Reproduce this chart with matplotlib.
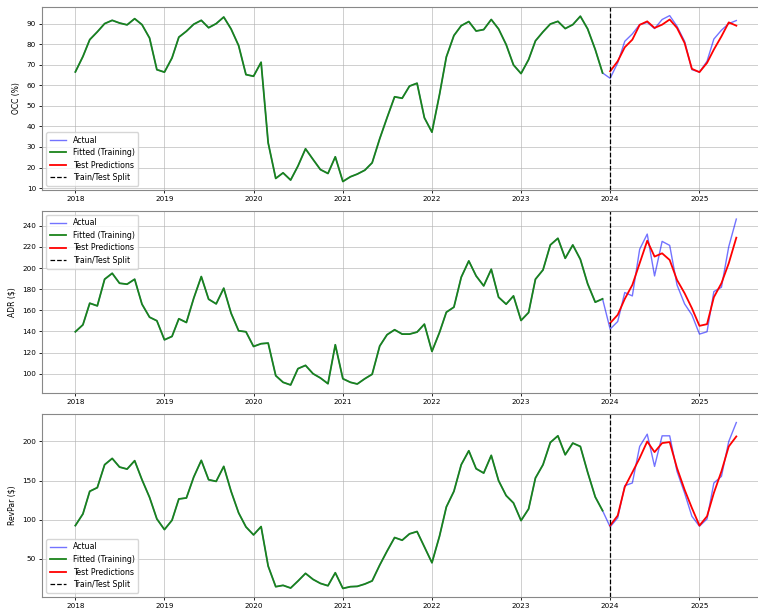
import numpy as np
import pandas as pd
import matplotlib
matplotlib.use("Agg")
import matplotlib.pyplot as plt

# monthly series, 2018-01 .. 2025-06
dates = pd.date_range("2018-01-01", "2025-06-01", freq="MS")
split_date = pd.Timestamp("2024-01-01")
n_train = 72

occ_actual = [
    66.5, 74.0, 82.2, 86.0, 90.0, 91.6, 90.3, 89.4, 92.4, 89.5, 83.0, 67.6,
    66.4, 73.3, 83.4, 86.3, 89.7, 91.6, 88.0, 90.0, 93.2, 87.4, 79.3, 65.2,
    64.4, 71.2, 32.0, 14.7, 17.4, 13.9, 20.7, 29.1, 23.9, 19.0, 17.1, 25.2,
    13.2, 15.5, 16.8, 18.7, 22.3, 34.0, 44.2, 54.4, 53.7, 59.6, 61.0, 44.2,
    37.2, 55.5, 73.8, 84.2, 89.0, 91.0, 86.4, 87.1, 92.0, 87.4, 79.8, 69.9,
    65.7, 72.5, 81.6, 86.0, 89.8, 91.1, 87.6, 89.5, 93.6, 87.4, 77.4, 66.0,
    63.4, 70.9, 81.4, 85.0, 89.5, 90.6, 87.6, 92.0, 93.9, 88.7, 81.4, 67.6,
    66.4, 71.7, 82.5, 86.8, 90.0, 91.5,
]
occ_pred = [66.8, 71.7, 78.5, 82.2, 89.4, 91.1, 87.9, 89.5, 92.0, 87.9, 80.6, 68.0,
            66.4, 70.9, 77.4, 83.8, 90.6, 89.0]

adr_actual = [
    139.7, 146.3, 166.7, 164.2, 189.4, 195.0, 185.6, 184.7, 189.4, 165.8, 153.5, 150.1,
    132.1, 135.3, 152.0, 148.5, 171.4, 191.9, 170.5, 166.1, 180.9, 157.3, 140.6, 139.7,
    125.8, 128.4, 129.0, 98.2, 91.9, 89.4, 104.8, 107.9, 100.0, 96.0, 90.6, 127.4,
    95.3, 91.9, 90.3, 95.3, 99.5, 126.2, 136.9, 141.6, 137.5, 137.5, 139.4, 146.9,
    121.1, 139.1, 158.2, 163.0, 191.3, 206.7, 192.5, 183.1, 198.8, 172.4, 165.8, 173.6,
    150.4, 157.9, 189.4, 198.2, 221.8, 228.1, 209.2, 221.8, 208.2, 185.0, 167.7, 170.8,
    142.2, 149.4, 176.8, 173.6, 217.7, 232.1, 192.5, 225.2, 221.4, 184.0, 166.1, 155.7,
    137.5, 139.7, 177.7, 181.8, 220.2, 246.3,
]
adr_pred = [147.9, 155.7, 170.8, 184.0, 204.5, 225.8, 210.8, 213.9, 207.6, 188.7, 176.2, 162.0,
            145.3, 146.9, 172.4, 185.6, 204.5, 228.7]

revpar_actual = [
    92.5, 107.4, 136.3, 141.0, 170.3, 178.3, 167.3, 164.7, 175.4, 151.1, 128.6, 101.0,
    87.4, 99.3, 126.5, 127.8, 154.5, 175.8, 151.1, 149.0, 168.1, 136.3, 108.7, 90.8,
    80.6, 91.2, 40.7, 14.4, 16.1, 12.7, 21.6, 31.4, 23.7, 18.6, 15.6, 32.2,
    12.2, 14.4, 14.8, 17.8, 21.8, 42.0, 59.8, 77.2, 73.8, 81.9, 84.9, 65.3,
    45.0, 79.0, 116.3, 136.3, 170.3, 188.1, 165.2, 159.6, 182.2, 149.9, 130.8, 121.4,
    98.9, 113.8, 153.3, 170.3, 198.7, 207.2, 183.0, 197.9, 193.6, 160.5, 129.1, 111.6,
    90.8, 102.3, 143.5, 146.9, 193.6, 209.3, 168.1, 207.2, 207.2, 161.8, 134.2, 104.4,
    91.7, 101.0, 146.9, 155.4, 200.0, 224.2,
]
revpar_pred = [92.5, 105.3, 141.8, 160.5, 178.8, 200.0, 186.4, 197.9, 199.2, 166.0, 138.4, 115.0,
               92.5, 104.4, 134.2, 161.8, 193.6, 206.4]

panels = [
    ("OCC (%)", occ_actual, occ_pred, "lower left"),
    ("ADR (\\$)", adr_actual, adr_pred, "upper left"),
    ("RevPar (\\$)", revpar_actual, revpar_pred, "lower left"),
]

fig, axes = plt.subplots(3, 1, figsize=(7.58, 6.09), dpi=100)
# the source image is cropped on the right, so the axes run past the edge
fig.subplots_adjust(left=0.0558, right=1.015, top=0.988, bottom=0.0202, hspace=0.115)

for ax, (label, actual, pred, loc) in zip(axes, panels):
    actual = np.array(actual)
    ax.plot(dates, actual, color="blue", alpha=0.55, lw=1.0, label="Actual")
    ax.plot(dates[:n_train], actual[:n_train], color="#1a841a", lw=1.3, label="Fitted (Training)")
    ax.plot(dates[n_train:], pred, color="red", lw=1.3, label="Test Predictions")
    ax.axvline(split_date, color="black", ls="--", lw=0.9, label="Train/Test Split")
    ax.set_ylabel(label, fontsize=5.5)
    ax.tick_params(labelsize=5.2, length=2.5, width=0.6, pad=2)
    ax.grid(True, alpha=0.7, lw=0.6)
    ax.legend(loc=loc, fontsize=5.7, handlelength=2.0, handletextpad=0.9,
              borderpad=0.45, labelspacing=0.45)
    for s in ax.spines.values():
        s.set_color("#888888")

plt.savefig("out.png", dpi=100)
